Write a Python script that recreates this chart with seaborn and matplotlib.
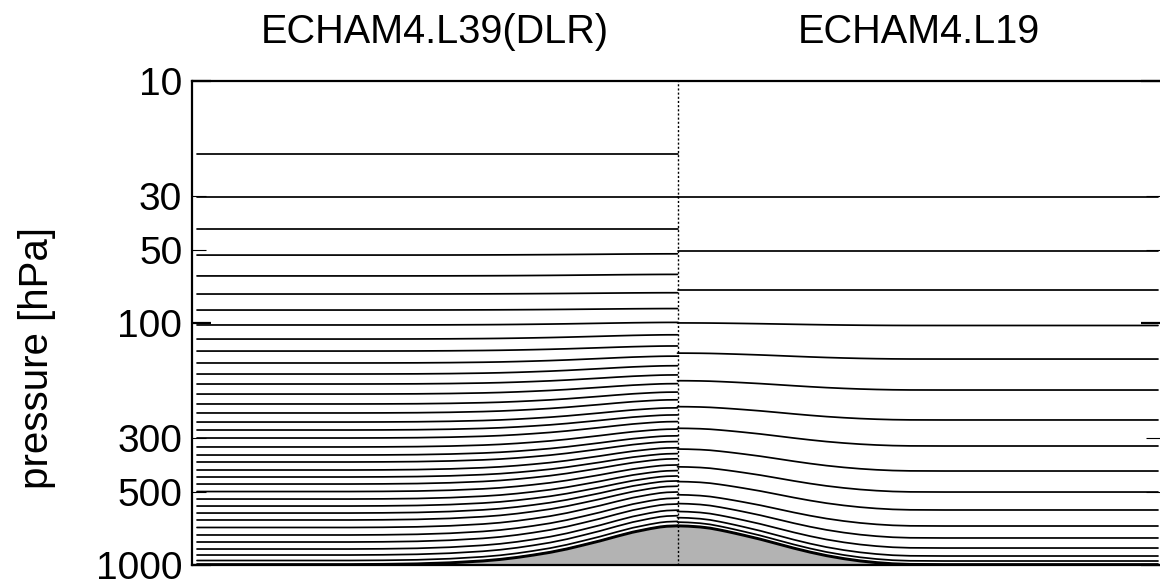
import numpy as np
import pandas as pd
import matplotlib
matplotlib.use("Agg")
import matplotlib.pyplot as plt
import seaborn as sns

# ---------------- data ----------------
# horizontal position (arbitrary units, mountain centred at 0) and surface pressure [hPa]
x_left = [-1.0, -0.786, -0.682, -0.613, -0.542, -0.473, -0.405, -0.369, -0.334,
          -0.301, -0.265, -0.230, -0.197, -0.161, -0.126, -0.093, -0.057,
          -0.036, -0.022, 0.0]
ps_left = [1000, 1000, 1000, 998.1, 993.4, 983.0, 965.4, 951.8, 933.9,
           913.7, 889.6, 861.3, 830.7, 797.5, 763.3, 734.2, 710.1,
           698.7, 694.0, 691.4]
x_right = [0.0, 0.022, 0.047, 0.068, 0.088, 0.103, 0.120, 0.138, 0.172, 0.207,
           0.242, 0.276, 0.310, 0.346, 0.380, 0.414, 0.448, 0.484, 0.555, 1.0]
ps_right = [691.4, 693.4, 698.7, 706.8, 719.0, 729.3, 741.9, 756.1, 784.7, 819.0,
            854.8, 887.9, 918.0, 944.6, 965.4, 981.2, 992.4, 998.1, 1000, 1000]

# ECHAM4.L39(DLR): level pressure over flat ground (ps = 1000 hPa) and hybrid B coefficient
p39 = [10, 20.0, 30.2, 40.9, 52.4, 63.9, 75.9, 88.4, 101.9, 116.5, 130.6, 146.3,
       162.5, 178.7, 196.6, 216.1, 235.4, 256.6, 276.8, 298.7, 325.3, 351.2,
       375.3, 405.0, 432.9, 462.8, 497.1, 533.8, 570.6, 609.9, 651.6, 699.8,
       751.6, 803.5, 858.9, 909.4, 958.2, 990.6]
b39 = [0, 0, 0, 0, 0.002, 0.003, 0.003, 0.004, 0.008, 0.015, 0.02, 0.03,
       0.04, 0.048, 0.06, 0.075, 0.09, 0.105, 0.12, 0.14, 0.165, 0.19,
       0.215, 0.25, 0.28, 0.32, 0.36, 0.41, 0.46, 0.52, 0.58, 0.65,
       0.72, 0.79, 0.86, 0.92, 0.965, 0.99]

# ECHAM4.L19
p19 = [10, 30.1, 50.4, 73.2, 102.4, 140.9, 189.2, 251.6, 322.3, 408.9,
       499.4, 592.5, 690.0, 773.3, 850.8, 918.0, 962.7, 990.6]
b19 = [0, 0, 0, 0, 0.008, 0.025, 0.052, 0.097, 0.162, 0.25,
       0.345, 0.455, 0.575, 0.70, 0.81, 0.91, 0.965, 0.99]

titles = ["ECHAM4.L39(DLR)", "ECHAM4.L19"]
ytick_major = [10, 100, 1000]
ytick_minor = [30, 50, 300, 500]
ylabel = "pressure [hPa]"
P_REF = 1000.0


def levels_frame(xs, ps, pref, bcoef):
    rows = []
    xs = np.asarray(xs, float)
    ps = np.asarray(ps, float)
    for k, (p0, b) in enumerate(zip(pref, bcoef)):
        p = p0 + b * (ps - P_REF)
        for xi, pi in zip(xs, p):
            rows.append((k, xi, pi))
    return pd.DataFrame(rows, columns=["level", "x", "p"])


df39 = levels_frame(x_left, ps_left, p39, b39)
df19 = levels_frame(x_right, ps_right, p19, b19)

# ---------------- figure ----------------
sns.set_theme(style="white")
plt.rcParams["font.family"] = ["Liberation Sans", "DejaVu Sans"]

W, H = 1160, 584
fig = plt.figure(figsize=(W / 100, H / 100), dpi=100)
ax = fig.add_axes([192 / W, 1 - 565 / H, (W - 192) / W, (565 - 81) / H])
ax.set_yscale("log")

gray = "#b3b3b3"
ax.fill_between(x_left, ps_left, P_REF, color=gray, lw=0, zorder=1)
ax.fill_between(x_right, ps_right, P_REF, color=gray, lw=0, zorder=1)

for df in (df39, df19):
    sns.lineplot(data=df, x="x", y="p", units="level", estimator=None,
                 color="black", lw=1.25, sort=False, legend=False, ax=ax, zorder=3)

ax.plot(x_left, ps_left, color="black", lw=1.6, zorder=4)
ax.plot(x_right, ps_right, color="black", lw=1.6, zorder=4)
ax.axvline(0, color="black", lw=1.0, ls=(0, (1.5, 1.5)), zorder=5)

ax.set_ylim(1000, 10)
ax.set_xlim(-1 - 5 / 480.5, 1 + 2 / 480.5)
ax.set_xticks([])
ax.set_xlabel("")

ax.set_yticks(ytick_major, labels=[str(v) for v in ytick_major])
ax.set_yticks(ytick_minor, labels=[str(v) for v in ytick_minor], minor=True)
ax.tick_params(axis="y", which="both", direction="in", left=True, right=True,
               labelsize=28, pad=7, colors="black")
ax.tick_params(axis="y", which="major", length=13.5, width=1.6)
ax.tick_params(axis="y", which="minor", length=10, width=0.8)

ax.set_ylabel(ylabel, fontsize=29, color="black")
ax.yaxis.set_label_coords(-0.141, 0.428)

for side in ("left", "top", "bottom"):
    ax.spines[side].set_visible(True)
    ax.spines[side].set_color("black")
    ax.spines[side].set_linewidth(1.6)
ax.spines["right"].set_visible(False)
ax.set_facecolor("white")
ax.grid(False)

fig.text(434.5 / W, 1 - 43 / H, titles[0], ha="center", va="baseline",
         fontsize=28.5, color="black")
fig.text(918.5 / W, 1 - 43 / H, titles[1], ha="center", va="baseline",
         fontsize=28.5, color="black")

fig.savefig("out.png", dpi=100, facecolor="white")
